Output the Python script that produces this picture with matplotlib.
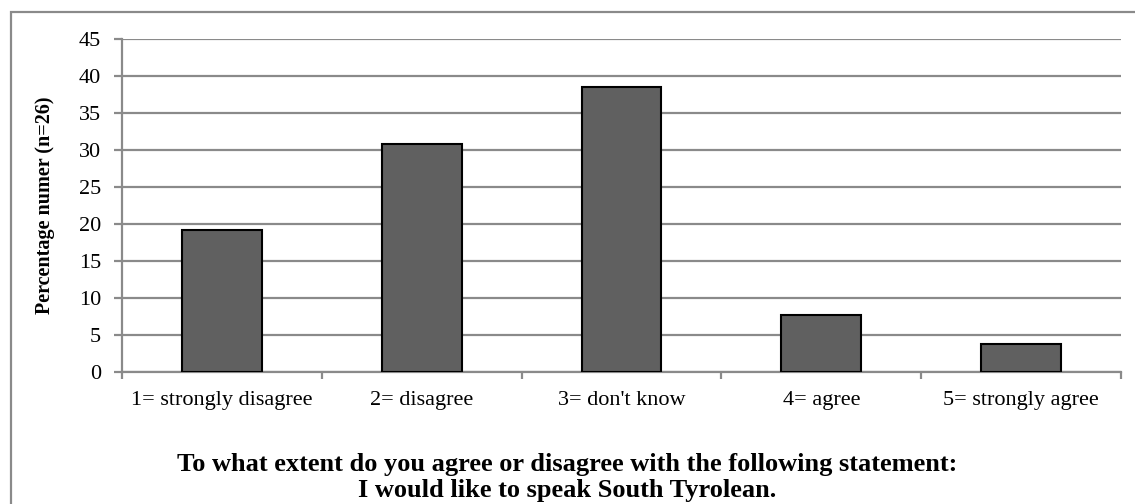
import matplotlib.pyplot as plt
from matplotlib.patches import Rectangle

# respostes (percentatge, n=26)
categories = ['1= strongly disagree', '2= disagree', "3= don't know", '4= agree', '5= strongly agree']
percentages = [19.23, 30.77, 38.46, 7.69, 3.85]
yticks = [0, 5, 10, 15, 20, 25, 30, 35, 40, 45]

plt.rcParams['font.family'] = ['Liberation Serif', 'DejaVu Serif']

fig = plt.figure(figsize=[11.35, 5.04], dpi=100)
ax = fig.add_axes([122/1135, 1 - 372/504, 999/1135, 333/504])

x = list(range(len(categories)))
ax.bar(x, percentages, width=0.4, color='#606060', edgecolor='black', linewidth=1.5, zorder=3)

ax.set_xlim(-0.5, len(categories) - 0.5)
ax.set_ylim(0, 45)
ax.set_yticks(yticks)
ax.set_yticklabels([str(v) for v in yticks], fontsize=16)
ax.yaxis.grid(True, color='#8a8a8a', linewidth=1.6, zorder=0)

# marques de l'eix x entre categories, etiquetes al centre
ax.set_xticks([i - 0.5 for i in range(len(categories) + 1)])
ax.set_xticklabels([])
ax.set_xticks(x, minor=True)
ax.set_xticklabels(categories, minor=True, fontsize=16, va='baseline')
ax.tick_params(axis='x', which='minor', length=0, pad=24)
ax.tick_params(axis='x', which='major', length=5, color='#8a8a8a', width=1.6, direction='out')
ax.tick_params(axis='y', length=6, color='#8a8a8a', width=1.6, direction='out', pad=9)

for side in ['top', 'right']:
    ax.spines[side].set_visible(False)
for side in ['left', 'bottom']:
    ax.spines[side].set_color('#8a8a8a')
    ax.spines[side].set_linewidth(1.6)

ax.set_ylabel('Percentage numer (n=26)', fontsize=14.5, fontweight='bold', labelpad=17)

fig.text(0.5, 1 - 465/504, 'To what extent do you agree or disagree with the following statement:',
         ha='center', va='center', fontsize=19, fontweight='bold')
fig.text(0.5, 1 - 490/504, 'I would like to speak South Tyrolean.',
         ha='center', va='center', fontsize=19, fontweight='bold')

# marc exterior del grafic
fig.patches.append(Rectangle((11/1135, -0.1), 1.2, 1.1 - 12/504, transform=fig.transFigure,
                             fill=False, edgecolor='#8a8a8a', linewidth=1.6))

plt.savefig('out.png', dpi=100)
